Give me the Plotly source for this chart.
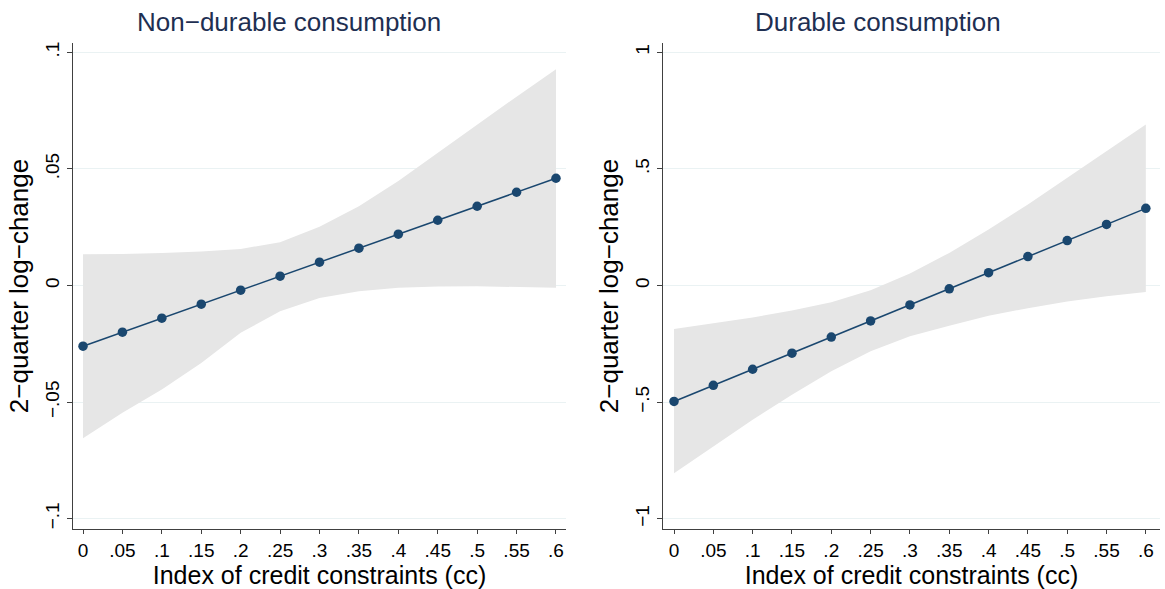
import plotly.graph_objects as go

# ---- data ----
cc = [0, 0.05, 0.1, 0.15, 0.2, 0.25, 0.3, 0.35, 0.4, 0.45, 0.5, 0.55, 0.6]
x_tick_vals = [0, 0.05, 0.1, 0.15, 0.2, 0.25, 0.3, 0.35, 0.4, 0.45, 0.5, 0.55, 0.6]
x_tick_text = ["0", ".05", ".1", ".15", ".2", ".25", ".3", ".35", ".4", ".45", ".5", ".55", ".6"]

nd_est = [-0.026, -0.020, -0.014, -0.008, -0.002, 0.004, 0.010, 0.016, 0.022, 0.028, 0.034, 0.040, 0.046]
nd_upper = [0.0134, 0.0135, 0.0140, 0.0146, 0.0157, 0.0186, 0.0252, 0.0340, 0.0448, 0.0569, 0.0691, 0.0810, 0.0927]
nd_lower = [-0.0655, -0.0546, -0.0446, -0.0332, -0.0203, -0.0110, -0.0053, -0.0024, -0.0010, -0.0004, -0.0003, -0.0005, -0.0010]
nd_y_vals = [-0.1, -0.05, 0, 0.05, 0.1]
nd_y_text = ["\u2212.1", "\u2212.05", "0", ".05", ".1"]

d_est = [-0.497, -0.428, -0.359, -0.290, -0.221, -0.152, -0.083, -0.014, 0.055, 0.124, 0.193, 0.262, 0.331]
d_upper = [-0.186, -0.163, -0.137, -0.107, -0.072, -0.020, 0.052, 0.140, 0.240, 0.348, 0.462, 0.576, 0.691]
d_lower = [-0.805, -0.690, -0.575, -0.468, -0.368, -0.282, -0.218, -0.172, -0.130, -0.097, -0.068, -0.046, -0.028]
d_y_vals = [-1, -0.5, 0, 0.5, 1]
d_y_text = ["\u22121", "\u2212.5", "0", ".5", "1"]

titles = ["Non\u2212durable consumption", "Durable consumption"]
x_title = "Index of credit constraints (cc)"
y_title = "2\u2212quarter log\u2212change"

# ---- style ----
W, H = 1165, 589
band_color = "#e6e6e6"
line_color = "#1a476f"
title_color = "#1e2f52"
grid_color = "#eaf2f3"
axis_color = "#404040"
font_family = "Liberation Sans, Arial, sans-serif"

fig = go.Figure()

panels = [
    dict(est=nd_est, up=nd_upper, lo=nd_lower, xa="x", ya="y"),
    dict(est=d_est, up=d_upper, lo=d_lower, xa="x2", ya="y2"),
]
for p in panels:
    fig.add_trace(go.Scatter(x=cc, y=p["lo"], mode="lines", line=dict(width=0, color=band_color),
                             xaxis=p["xa"], yaxis=p["ya"], showlegend=False, hoverinfo="skip"))
    fig.add_trace(go.Scatter(x=cc, y=p["up"], mode="lines", line=dict(width=0, color=band_color),
                             fill="tonexty", fillcolor=band_color,
                             xaxis=p["xa"], yaxis=p["ya"], showlegend=False, hoverinfo="skip"))
    fig.add_trace(go.Scatter(x=cc, y=p["est"], mode="lines+markers",
                             line=dict(width=1.5, color=line_color),
                             marker=dict(size=9.5, color=line_color),
                             xaxis=p["xa"], yaxis=p["ya"], showlegend=False))

def px_x(px):
    return px / W

def px_y(py):
    return 1 - py / H

xaxis_common = dict(
    tickvals=x_tick_vals, ticktext=x_tick_text,
    showgrid=False, zeroline=False,
    showline=True, linecolor=axis_color, linewidth=1.3,
    ticks="outside", ticklen=4, tickcolor=axis_color,
    tickfont=dict(size=19, color="#000000", family=font_family),
    title=dict(text=x_title, font=dict(size=25, color="#000000", family=font_family), standoff=6),
    automargin=False,
)
yaxis_common = dict(
    showgrid=True, gridcolor=grid_color, gridwidth=1, zeroline=False,
    showline=True, linecolor=axis_color, linewidth=1.3,
    ticks="outside", ticklen=5, tickcolor=axis_color, tickangle=-90,
    tickfont=dict(size=19, color="#000000", family=font_family),
    title=dict(text=y_title, font=dict(size=26, color="#000000", family=font_family), standoff=6),
    automargin=False,
)

ytop, ybot = 43, 529
fig.update_layout(
    width=W, height=H,
    margin=dict(l=0, r=0, t=0, b=0),
    paper_bgcolor="white", plot_bgcolor="white",
    font=dict(family=font_family),
    xaxis=dict(domain=[px_x(73), px_x(566)], range=[-0.0127, 0.6127], anchor="y", **xaxis_common),
    yaxis=dict(domain=[px_y(ybot), px_y(ytop)], range=[-0.1044, 0.104], anchor="x",
               tickvals=nd_y_vals, ticktext=nd_y_text, **yaxis_common),
    xaxis2=dict(domain=[px_x(663), px_x(1160)], range=[-0.014, 0.618], anchor="y2", **xaxis_common),
    yaxis2=dict(domain=[px_y(ybot), px_y(ytop)], range=[-1.044, 1.04], anchor="x2",
                tickvals=d_y_vals, ticktext=d_y_text, **yaxis_common),
    annotations=[
        dict(text=titles[0], x=px_x(289), y=px_y(22), xref="paper", yref="paper",
             xanchor="center", yanchor="middle",
             showarrow=False, font=dict(size=26, color=title_color, family=font_family)),
        dict(text=titles[1], x=px_x(878), y=px_y(22), xref="paper", yref="paper",
             xanchor="center", yanchor="middle",
             showarrow=False, font=dict(size=26, color=title_color, family=font_family)),
    ],
)

fig.write_html("out.html")
